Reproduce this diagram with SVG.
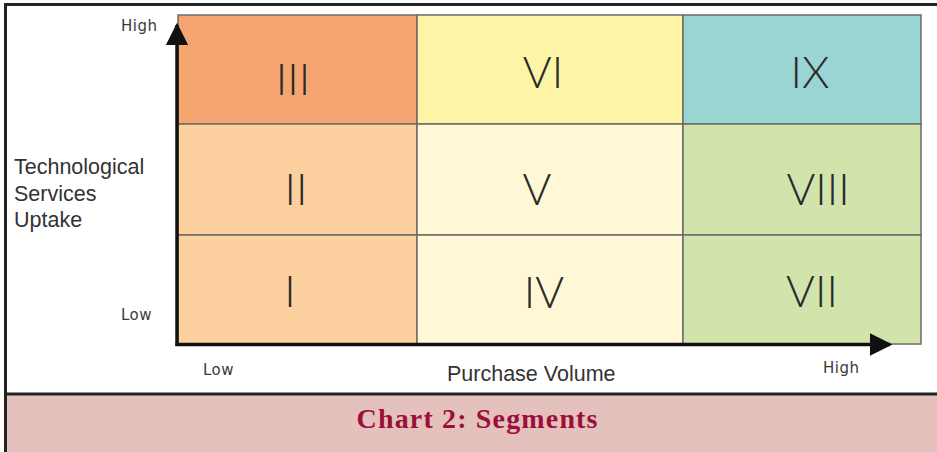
<svg xmlns="http://www.w3.org/2000/svg" width="937" height="452" viewBox="0 0 937 452">
  <defs>
    <style>
      .cell { stroke: #6f6a66; stroke-width: 1.5; }
      .num { font-family: "Lato", "Liberation Sans", sans-serif; font-weight: 300; font-size: 44px; fill: #2a2a2a; text-anchor: middle; }
      .axis-lbl { font-family: "DejaVu Sans", "Liberation Sans", sans-serif; font-size: 15px; fill: #3a3a3a; letter-spacing: 0.5px; }
      .label { font-family: "Liberation Sans", Arial, sans-serif; font-size: 21.5px; fill: #333; }
      .axis { stroke: #111; stroke-width: 3.5; fill: none; }
      .title { font-family: "Liberation Serif", "Times New Roman", serif; font-weight: bold; font-size: 28px; fill: #9c0f3b; text-anchor: middle; }
    </style>
    <marker id="arrowhead" viewBox="0 0 10 10" refX="9" refY="5" markerWidth="6.5" markerHeight="6.5" markerUnits="strokeWidth" orient="auto">
      <path d="M0,0 L10,5 L0,10 Z" fill="#111"/>
    </marker>
  </defs>

  <!-- page background and frame -->
  <rect x="0" y="0" width="937" height="452" fill="#ffffff"/>
  <rect x="5" y="394" width="932" height="58" fill="#e5c1bd"/>
  <line x1="5" y1="394" x2="937" y2="394" stroke="#222" stroke-width="3"/>
  <line x1="4" y1="4.5" x2="937" y2="4.5" stroke="#222" stroke-width="3"/>
  <line x1="5.5" y1="3" x2="5.5" y2="452" stroke="#222" stroke-width="3"/>

  <!-- segment grid: columns = purchase volume, rows = technology uptake -->
  <g id="seg-III"><rect class="cell" x="178" y="15" width="239" height="109" fill="#f5a56f"/><text class="num" x="293" y="95">III</text></g>
  <g id="seg-VI"><rect class="cell" x="417" y="15" width="266" height="109" fill="#fdf4a6"/><text class="num" x="543" y="88">VI</text></g>
  <g id="seg-IX"><rect class="cell" x="683" y="15" width="238" height="109" fill="#98d5d3"/><text class="num" x="810" y="88">IX</text></g>

  <g id="seg-II"><rect class="cell" x="178" y="124" width="239" height="111" fill="#fcd09f"/><text class="num" x="296" y="205">II</text></g>
  <g id="seg-V"><rect class="cell" x="417" y="124" width="266" height="111" fill="#fef8d6"/><text class="num" x="537" y="205">V</text></g>
  <g id="seg-VIII"><rect class="cell" x="683" y="124" width="238" height="111" fill="#d0e4ac"/><text class="num" x="818" y="205">VIII</text></g>

  <g id="seg-I"><rect class="cell" x="178" y="235" width="239" height="109" fill="#fcd09f"/><text class="num" x="290" y="307">I</text></g>
  <g id="seg-IV"><rect class="cell" x="417" y="235" width="266" height="109" fill="#fef8d6"/><text class="num" x="544" y="308">IV</text></g>
  <g id="seg-VII"><rect class="cell" x="683" y="235" width="238" height="109" fill="#d0e4ac"/><text class="num" x="812" y="307">VII</text></g>

  <!-- axes -->
  <g id="connectors">
    <line class="axis" x1="177" y1="346" x2="177" y2="25" marker-end="url(#arrowhead)"/>
    <line class="axis" x1="175.5" y1="344.5" x2="890" y2="344.5" marker-end="url(#arrowhead)"/>
  </g>

  <!-- axis labels -->
  <g id="labels">
    <text class="axis-lbl" x="121" y="31">High</text>
    <text class="axis-lbl" x="121" y="320">Low</text>
    <text class="axis-lbl" x="203" y="375">Low</text>
    <text class="axis-lbl" x="823" y="373">High</text>
    <text class="label" x="14" y="174">Technological</text>
    <text class="label" x="14" y="201">Services</text>
    <text class="label" x="14" y="227">Uptake</text>
    <text class="label" x="447" y="381">Purchase Volume</text>
  </g>

  <text class="title" x="477" y="428" textLength="241" lengthAdjust="spacing">Chart 2: Segments</text>
</svg>
